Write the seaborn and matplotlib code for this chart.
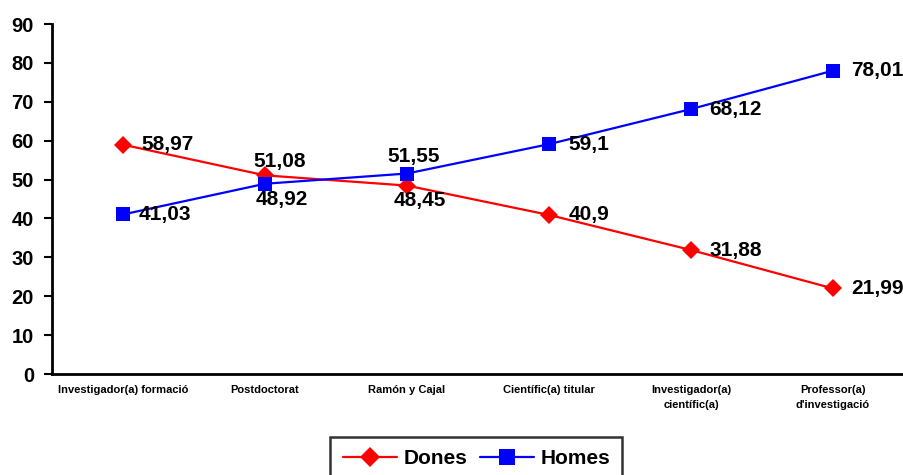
import matplotlib
matplotlib.use("Agg")
import matplotlib.pyplot as plt
import seaborn as sns
import pandas as pd
from matplotlib.lines import Line2D

categories = ["Investigador(a) formació", "Postdoctorat", "Ramón y Cajal",
              "Científic(a) titular", "Investigador(a)\ncientífic(a)",
              "Professor(a)\nd'investigació"]
dones = [58.97, 51.08, 48.45, 40.9, 31.88, 21.99]
homes = [41.03, 48.92, 51.55, 59.1, 68.12, 78.01]
yticks = [0, 10, 20, 30, 40, 50, 60, 70, 80, 90]

sns.set_theme(style="white")
plt.rcParams['font.family'] = ['Liberation Sans', 'DejaVu Sans']
for k in ["text.color", "axes.labelcolor", "xtick.color", "ytick.color", "axes.edgecolor"]:
    plt.rcParams[k] = "black"

df = pd.DataFrame({
    "x": list(range(len(categories))) * 2,
    "value": dones + homes,
    "serie": ["Dones"] * len(dones) + ["Homes"] * len(homes),
})

fig = plt.figure(figsize=(9.04, 4.75), dpi=100)
ax = fig.add_axes([52 / 904, 101 / 475, 852 / 904, 350 / 475])

sns.lineplot(data=df, x="x", y="value", hue="serie", style="serie",
             markers={"Dones": "D", "Homes": "s"}, dashes=False,
             palette={"Dones": "#ff0000", "Homes": "#0000ff"},
             linewidth=1.6, markersize=9, markeredgewidth=0, ax=ax, legend=False)
for ln, ms in zip(ax.lines, [9, 10]):
    ln.set_markersize(ms)

ax.set_xlim(-0.5, len(categories) - 0.5)
ax.set_ylim(0, 90)
ax.set_yticks(yticks)
ax.set_yticklabels([str(v) for v in yticks], fontsize=14.5, fontweight="bold")
ax.set_xticks([i + 0.5 for i in range(len(categories) - 1)])
ax.set_xticklabels([])
ax.set_xticks(range(len(categories)), minor=True)
ax.set_xticklabels(categories, minor=True, fontsize=8, fontweight="bold", linespacing=1.6)
ax.tick_params(axis="x", which="minor", length=0, pad=8)
ax.tick_params(axis="x", which="major", length=4, width=1.2, direction="out", color="black")
ax.tick_params(axis="y", length=6, width=1.5, direction="out", color="black", pad=7, left=True)
ax.set_xlabel("")
ax.set_ylabel("")
for s in ["top", "right"]:
    ax.spines[s].set_visible(False)
for s in ["left", "bottom"]:
    ax.spines[s].set_color("black")
    ax.spines[s].set_linewidth(2)
ax.grid(False)

def fmt(v):
    return f"{v:g}".replace(".", ",")

# offsets in points (dx, dy, ha)
d_off = [(13, 0, "left"), (-8, 10, "left"), (9, -11, "center"),
         (14, 0, "left"), (13, 0, "left"), (13, 0, "left")]
h_off = [(11, 0, "left"), (-7, -11, "left"), (5, 12, "center"),
         (14, 0, "left"), (13, 0, "left"), (13, 0, "left")]
for i, v in enumerate(dones):
    dx, dy, ha = d_off[i]
    ax.annotate(fmt(v), (i, v), xytext=(dx, dy), textcoords="offset points",
                ha=ha, va="center", fontsize=15, fontweight="bold", annotation_clip=False)
for i, v in enumerate(homes):
    dx, dy, ha = h_off[i]
    ax.annotate(fmt(v), (i, v), xytext=(dx, dy), textcoords="offset points",
                ha=ha, va="center", fontsize=15, fontweight="bold", annotation_clip=False)

handles = [Line2D([], [], color="#ff0000", marker="D", markersize=10, lw=1.6, markeredgewidth=0),
           Line2D([], [], color="#0000ff", marker="s", markersize=11, lw=1.6, markeredgewidth=0)]
leg = fig.legend(handles, ["Dones", "Homes"], loc="upper center", ncol=2,
                 bbox_to_anchor=(0.527, 38 / 475), frameon=True, fancybox=False,
                 prop={"weight": "bold", "size": 15}, handlelength=2.6,
                 columnspacing=0.6, handletextpad=0.3, borderpad=0.6, borderaxespad=0)
leg.get_frame().set_edgecolor("black")
leg.get_frame().set_linewidth(1.8)

fig.savefig("out.png", dpi=100)
